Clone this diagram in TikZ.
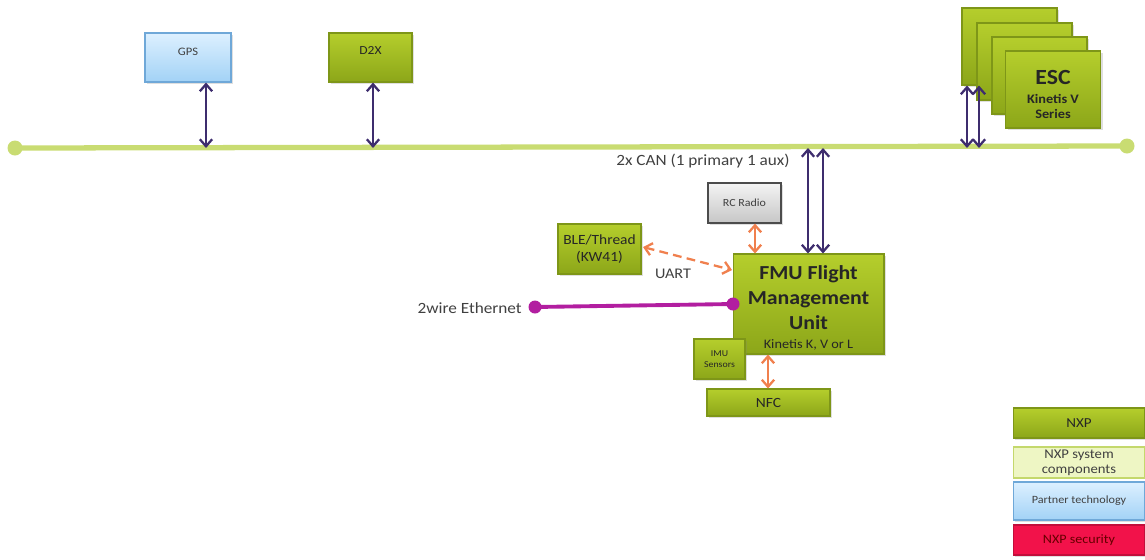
\documentclass[tikz,border=0pt]{standalone}
\usepackage{fontspec}
\setmainfont{Carlito}[FakeStretch=1.1]
\usetikzlibrary{arrows.meta,shadows}
\definecolor{gtop}{HTML}{B5CE2C}
\definecolor{gbot}{HTML}{8CA619}
\definecolor{gbord}{HTML}{7E9618}
\definecolor{btop}{HTML}{DDF0FF}
\definecolor{bbot}{HTML}{A2D2F6}
\definecolor{bbord}{HTML}{6FA8D8}
\definecolor{rtop}{HTML}{F4F4F4}
\definecolor{rbot}{HTML}{C6C6C6}
\definecolor{ltgreen}{HTML}{EEF6C4}
\definecolor{ltgbord}{HTML}{C4D86C}
\definecolor{secred}{HTML}{F2124A}
\definecolor{busc}{HTML}{C9DC72}
\definecolor{purp}{HTML}{3E2D6E}
\definecolor{orng}{HTML}{F0804E}
\definecolor{mag}{HTML}{B21EA0}
\definecolor{txt}{HTML}{404040}
\tikzset{
  base/.style={draw, line width=0.6pt, inner sep=0pt, align=center, text=txt,
    drop shadow={opacity=0.25, shadow xshift=0.04cm, shadow yshift=-0.04cm}},
  gbox/.style={base, top color=gtop, bottom color=gbot, draw=gbord, text=black!85},
  bbox/.style={base, top color=btop, bottom color=bbot, draw=bbord},
  rbox/.style={base, top color=rtop, bottom color=rbot, draw=black!70},
  sbox/.style={base, fill=secred, draw=secred!80!black, text=black!60!red},
  can/.style={purp, line width=1.3pt, {Straight Barb[length=4pt,width=7pt]}-{Straight Barb[length=4pt,width=7pt]}},
  org/.style={orng, line width=1.3pt, {Straight Barb[length=4pt,width=7pt]}-{Straight Barb[length=4pt,width=7pt]}},
  lbl/.style={text=txt, inner sep=0pt}
}
\begin{document}
\begin{tikzpicture}[x=0.02cm,y=-0.02cm]
\useasboundingbox (0,0) rectangle (1145,559);
% bus
\coordinate (busL) at (15,148);
\coordinate (busR) at (1127,146);
\draw[busc, line width=3pt] (busL) -- (busR);
\fill[busc] (busL) circle (7.5);
\fill[busc] (busR) circle (7.5);
% top boxes
\node[bbox, minimum width=1.72cm, minimum height=0.98cm, text depth=0.22cm, font=\fontsize{6.5}{7}\selectfont] (gps) at (188,57.5) {GPS};
\node[gbox, minimum width=1.66cm, minimum height=0.98cm, text depth=0.26cm, font=\fontsize{7}{8}\selectfont] (d2x) at (370.5,57.5) {D2X};
\coordinate (gpsb) at (206,148);
\coordinate (d2xb) at (373,148);
\draw[can] (gps.south -| gpsb) -- (gpsb);
\draw[can] (d2x.south -| d2xb) -- (d2xb);
% ESC stack
\node[gbox, minimum width=1.9cm, minimum height=1.54cm] (esc1) at (1009.5,46.5) {};
\node[gbox, minimum width=1.9cm, minimum height=1.54cm] (esc2) at (1024.5,61.5) {};
\node[gbox, minimum width=1.9cm, minimum height=1.54cm] (esc3) at (1039.5,75.5) {};
\node[gbox, minimum width=1.9cm, minimum height=1.54cm, font=\bfseries\fontsize{7.4}{8.6}\selectfont] (esc4) at (1053,89.5) {\rule{0pt}{13.6pt}{\fontsize{12.3}{13}\selectfont ESC}\\[2pt]Kinetis V\\Series};
\coordinate (e1) at (967,148);
\coordinate (e2) at (979,148);
\draw[can] (esc1.south -| e1) -- (e1);
\draw[can] (esc1.south -| e2) -- (e2);
% FMU
\node[gbox, minimum width=3.02cm, minimum height=2.0cm, font=\bfseries\fontsize{11.3}{14}\selectfont] (fmu) at (808.5,304) {\rule{0pt}{12.6pt}FMU Flight\\Management\\Unit\\[-2.8pt]{\mdseries\fontsize{7.4}{8}\selectfont Kinetis K, V or L}};
\coordinate (c1) at (808,148);
\coordinate (c2) at (823,148);
\draw[can] (c1) -- (fmu.north -| c1);
\draw[can] (c2) -- (fmu.north -| c2);
\node[lbl, font=\fontsize{8.9}{10}\selectfont] (canlbl) at (703,161) {2x CAN (1 primary 1 aux)};
% RC radio
\node[rbox, minimum width=1.46cm, minimum height=0.8cm, font=\fontsize{6.2}{7}\selectfont] (rc) at (744.5,203) {RC Radio};
\coordinate (rcx) at (755,0);
\draw[org] (rc.south -| rcx) -- (fmu.north -| rcx);
% BLE
\node[gbox, minimum width=1.66cm, minimum height=1.0cm, font=\fontsize{8}{9.6}\selectfont] (ble) at (599.5,249) {BLE/Thread\\(KW41)};
\coordinate (uartE) at (732,270);
\coordinate (uartS) at (643,247);
\draw[org, dashed, dash pattern=on 5pt off 3pt] (uartS) -- (uartE);
\node[lbl, font=\fontsize{8.4}{9}\selectfont] (uart) at (673,274) {UART};
% IMU
\node[gbox, minimum width=1.02cm, minimum height=0.8cm, font=\fontsize{5.1}{6.2}\selectfont] (imu) at (719.5,359) {IMU\\Sensors};
% NFC
\node[gbox, minimum width=2.46cm, minimum height=0.54cm, font=\fontsize{8}{9}\selectfont] (nfc) at (768.5,402.5) {NFC};
\coordinate (nfcx) at (768,0);
\draw[org] (fmu.south -| nfcx) -- (nfc.north -| nfcx);
% Ethernet
\coordinate (ethL) at (535,307);
\coordinate (ethR) at (733,304);
\draw[mag, line width=2.2pt] (ethL) -- (ethR);
\fill[mag] (ethL) circle (6.5);
\fill[mag] (ethR) circle (6.5);
\node[lbl, anchor=east, font=\fontsize{8.9}{10}\selectfont] (ethlbl) at (522,308) {2wire Ethernet};
% legend
\node[gbox, minimum width=2.64cm, minimum height=0.6cm, font=\fontsize{7.8}{8}\selectfont] (lg1) at (1079,423) {NXP};
\node[lbl, draw=ltgbord, fill=ltgreen, line width=0.6pt, align=center, minimum width=2.64cm, minimum height=0.62cm, font=\fontsize{7.6}{8.6}\selectfont] (lg2) at (1079,462.5) {NXP system\\components};
\node[bbox, minimum width=2.64cm, minimum height=0.76cm, font=\fontsize{6.3}{7}\selectfont] (lg3) at (1079,501) {Partner technology};
\node[sbox, minimum width=2.64cm, minimum height=0.6cm, font=\fontsize{7.3}{8}\selectfont] (lg4) at (1079,540) {NXP security};
\end{tikzpicture}
\end{document}
